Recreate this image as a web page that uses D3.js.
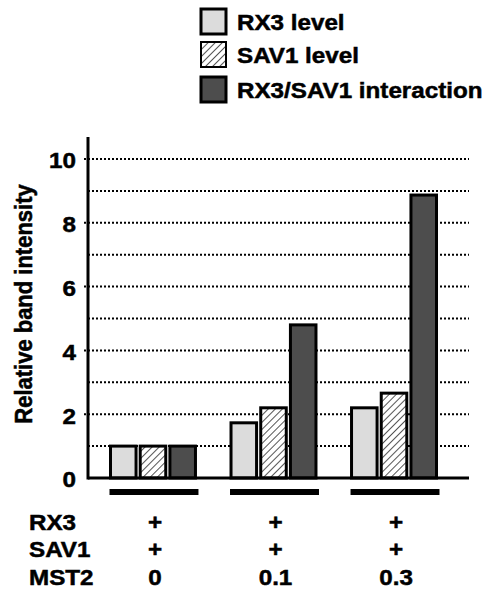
<!DOCTYPE html>
<html>
<head>
<meta charset="utf-8">
<script src="https://cdn.jsdelivr.net/npm/d3@7"></script>
<style>
  body { margin: 0; background: #fff; }
  text { font-family: "Liberation Sans", Arial, sans-serif; font-weight: bold; fill: #000; stroke: #000; stroke-width: 0.5px; }
</style>
</head>
<body>
<svg id="chart" width="486" height="591"></svg>
<script>
// values
const groups = ["0", "0.1", "0.3"];
const series = ["RX3 level", "SAV1 level", "RX3/SAV1 interaction"];
const rx3Level = [1.0, 1.73, 2.2];
const sav1Level = [1.0, 2.2, 2.66];
const interaction = [1.0, 4.8, 8.87];
const yTicks = [0, 2, 4, 6, 8, 10];
const gridValues = [1, 2, 3, 4, 5, 6, 7, 8, 9, 10];
const rowLabels = ["RX3", "SAV1", "MST2"];
const rx3Row = ["+", "+", "+"];
const sav1Row = ["+", "+", "+"];
const mst2Row = groups;

const fills = { "RX3 level": "#dcdcdc", "SAV1 level": "url(#hatch)", "RX3/SAV1 interaction": "#4d4d4d" };
const seriesValues = [rx3Level, sav1Level, interaction];
const fontSize = "22px";

const svg = d3.select("#chart");

// hatch pattern for SAV1
const pat = svg.append("defs").append("pattern")
    .attr("id", "hatch")
    .attr("patternUnits", "userSpaceOnUse")
    .attr("width", 5).attr("height", 5)
    .attr("patternTransform", "rotate(45)");
pat.append("rect").attr("width", 5).attr("height", 5).attr("fill", "#fff");
pat.append("line").attr("x1", 0).attr("y1", 0).attr("x2", 0).attr("y2", 5)
    .attr("stroke", "#555").attr("stroke-width", 2);

const axisX = 88, plotRight = 469;
const y = d3.scaleLinear().domain([0, 10]).range([478, 159]);
const x0 = d3.scaleBand().domain(groups).range([110.5, 436.5]).paddingInner(0.295).paddingOuter(0);
const x1 = d3.scaleBand().domain(series).range([0, x0.bandwidth()]).paddingInner(0.14);

// text in the figure is a little wider than the font, so stretch it
const stretch = 1.1;
const wide = (sel, x, yy) => sel.attr("transform", `translate(${x},${yy}) scale(${stretch},1)`);

// dotted gridlines
svg.append("g").selectAll("line")
    .data(gridValues)
    .join("line")
    .attr("x1", d => yTicks.includes(d) ? axisX - 4 : axisX)
    .attr("x2", plotRight)
    .attr("y1", d => y(d)).attr("y2", d => y(d))
    .attr("stroke", "#000")
    .attr("stroke-width", 2)
    .attr("stroke-dasharray", "2,2");

// y axis labels from d3 axis, heavy line drawn separately
const yAxis = svg.append("g")
    .attr("transform", `translate(${axisX},0)`)
    .call(d3.axisLeft(y).tickValues(yTicks).tickSize(0).tickPadding(12));
yAxis.select(".domain").remove();
yAxis.selectAll(".tick text")
    .style("font-size", fontSize)
    .attr("dy", "0.4em")
    .attr("transform", `translate(-12,0) scale(${stretch},1)`)
    .attr("x", 0);

svg.append("line")
    .attr("x1", axisX).attr("x2", axisX)
    .attr("y1", 137).attr("y2", y(0) + 1.5)
    .attr("stroke", "#000").attr("stroke-width", 3);

// bars
const rows = groups.map((g, i) => ({ group: g, values: series.map((s, j) => ({ key: s, value: seriesValues[j][i] })) }));
svg.append("g").selectAll("g")
    .data(rows)
    .join("g")
    .attr("transform", d => `translate(${x0(d.group)},0)`)
    .selectAll("rect")
    .data(d => d.values)
    .join("rect")
    .attr("x", d => x1(d.key))
    .attr("y", d => y(d.value))
    .attr("width", x1.bandwidth())
    .attr("height", d => y(0) - y(d.value))
    .attr("fill", d => fills[d.key])
    .attr("stroke", "#000")
    .attr("stroke-width", 3);

// baseline
svg.append("line")
    .attr("x1", axisX).attr("x2", plotRight)
    .attr("y1", y(0)).attr("y2", y(0))
    .attr("stroke", "#000").attr("stroke-width", 3);

// thick underline under each group
svg.append("g").selectAll("rect")
    .data(groups)
    .join("rect")
    .attr("x", d => x0(d) - 1)
    .attr("y", 489)
    .attr("width", x0.bandwidth() + 4)
    .attr("height", 6)
    .attr("fill", "#000");

// y title
svg.append("text")
    .attr("transform", `translate(32,304) rotate(-90) scale(1,${stretch})`)
    .attr("text-anchor", "middle")
    .style("font-size", fontSize)
    .text("Relative band intensity");

// condition table below
const rowY = [530, 557, 585];
const rowData = [rx3Row, sav1Row, mst2Row];
rowLabels.forEach((lab, i) => {
    svg.append("text").call(wide, 29, rowY[i]).style("font-size", fontSize).text(lab);
    svg.append("g").selectAll("text")
        .data(rowData[i])
        .join("text")
        .each(function (d, k) { wide(d3.select(this), x0(groups[k]) + x0.bandwidth() / 2 + 2, rowY[i]); })
        .attr("text-anchor", "middle")
        .style("font-size", fontSize)
        .text(d => d);
});

// legend
const legendTop = [9, 42, 77];
const legend = svg.append("g").selectAll("g")
    .data(series)
    .join("g")
    .attr("transform", (d, i) => `translate(201,${legendTop[i]})`);
legend.append("rect")
    .attr("width", 25).attr("height", 25)
    .attr("fill", d => fills[d])
    .attr("stroke", "#000")
    .attr("stroke-width", (d, i) => i === 1 ? 2 : 3);
legend.append("text")
    .call(wide, 36, 13)
    .attr("dy", "0.36em")
    .style("font-size", fontSize)
    .text(d => d);
</script>
</body>
</html>
